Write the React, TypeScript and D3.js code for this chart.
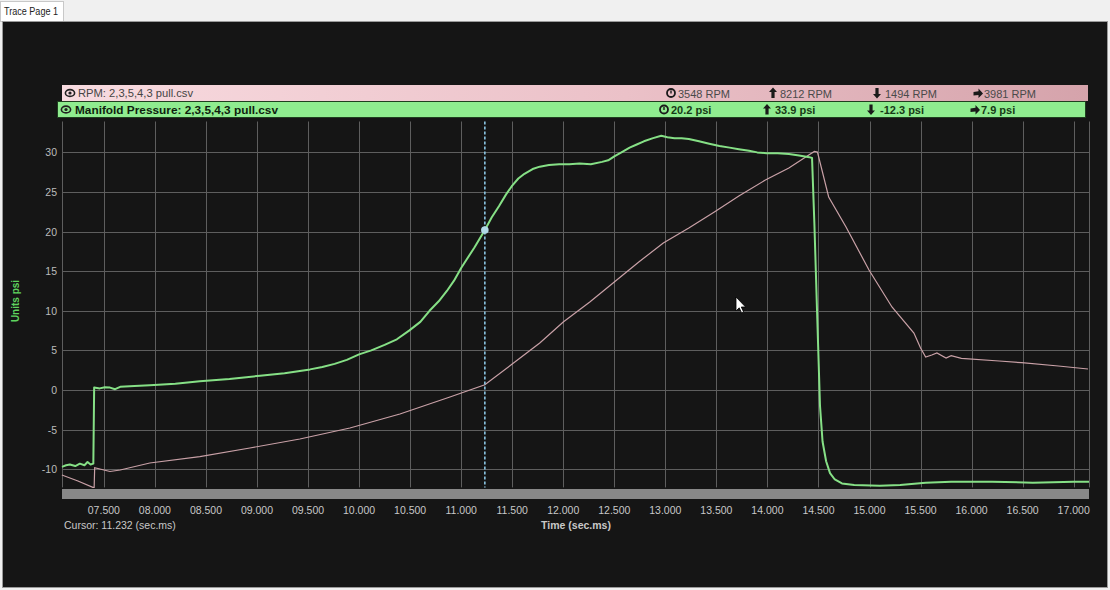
import React from "react";
import * as d3 from "d3";

// ---- data ----
const timeTicks = [7.5, 8, 8.5, 9, 9.5, 10, 10.5, 11, 11.5, 12, 12.5, 13, 13.5, 14, 14.5, 15, 15.5, 16, 16.5, 17];
const psiTicks = [-10, -5, 0, 5, 10, 15, 20, 25, 30];

const mapTime = [7.09, 7.13, 7.167, 7.22, 7.265, 7.31, 7.34, 7.37, 7.397, 7.405, 7.46, 7.51, 7.56, 7.61, 7.66, 7.8, 7.95, 8.2, 8.44, 8.73, 9.03, 9.27, 9.52, 9.64, 9.76, 9.88, 10.0, 10.12, 10.25, 10.37, 10.49, 10.6, 10.69, 10.78, 10.86, 10.93, 11.0, 11.13, 11.232, 11.3, 11.37, 11.44, 11.5, 11.56, 11.62, 11.7, 11.77, 11.86, 11.96, 12.06, 12.16, 12.27, 12.38, 12.44, 12.5, 12.57, 12.65, 12.72, 12.79, 12.88, 12.96, 13.02, 13.09, 13.16, 13.23, 13.33, 13.43, 13.53, 13.63, 13.72, 13.82, 13.9, 13.99, 14.1, 14.21, 14.31, 14.41, 14.437, 14.46, 14.486, 14.515, 14.54, 14.575, 14.613, 14.66, 14.73, 14.85, 15.1, 15.3, 15.55, 15.8, 16.2, 16.6, 17.0, 17.15];
const mapPsi = [-9.7, -9.5, -9.4, -9.6, -9.3, -9.5, -9.1, -9.4, -9.3, 0.3, 0.2, 0.35, 0.3, 0.1, 0.4, 0.5, 0.6, 0.8, 1.1, 1.4, 1.8, 2.1, 2.6, 2.9, 3.3, 3.8, 4.5, 5.0, 5.7, 6.4, 7.5, 8.6, 10, 11.2, 12.5, 13.8, 15.4, 18, 20.2, 21.8, 23.2, 24.7, 25.8, 26.7, 27.3, 27.9, 28.2, 28.4, 28.5, 28.5, 28.6, 28.5, 28.8, 29.0, 29.5, 30.0, 30.6, 31.0, 31.4, 31.8, 32.1, 31.9, 31.8, 31.8, 31.7, 31.4, 31.1, 30.8, 30.6, 30.4, 30.2, 30.0, 29.9, 29.9, 29.8, 29.6, 29.4, 29.3, 21, 10, -2, -6.5, -9, -10.5, -11.3, -11.8, -12.0, -12.1, -12.0, -11.7, -11.6, -11.6, -11.7, -11.6, -11.6];

const rpmTime = [7.089, 7.246, 7.392, 7.405, 7.41, 7.56, 7.66, 7.95, 8.44, 8.93, 9.42, 9.91, 10.4, 10.89, 11.232, 11.5, 11.77, 12.0, 12.26, 12.5, 12.74, 12.98, 13.23, 13.48, 13.72, 13.98, 14.21, 14.39, 14.46, 14.49, 14.6, 14.77, 14.995, 15.22, 15.435, 15.5, 15.55, 15.61, 15.66, 15.75, 15.8, 15.9, 16.27, 16.49, 16.85, 17.14];
const rpmVal = [1742, 1622, 1494, 1494, 1888, 1812, 1842, 1982, 2108, 2282, 2462, 2682, 2962, 3302, 3548, 3962, 4382, 4802, 5202, 5602, 6002, 6382, 6682, 7002, 7322, 7642, 7882, 8122, 8212, 8200, 7302, 6702, 5842, 5102, 4582, 4282, 4102, 4142, 4182, 4082, 4128, 4076, 4022, 3988, 3922, 3862];

const cursorTime = 11.232;
const cursorPsi = 20.2;

const rpmStats = ["3548 RPM", "8212 RPM", "1494 RPM", "3981 RPM"];
const psiStats = ["20.2 psi", "33.9 psi", "-12.3 psi", "7.9 psi"];

const FONT = "'Liberation Sans', 'DejaVu Sans', sans-serif";

function Eye({ x, y }: { x: number; y: number }) {
  return (
    <g transform={`translate(${x},${y})`}>
      <ellipse rx={4.6} ry={3.4} fill="none" stroke="#222" strokeWidth={1.6} />
      <circle r={1.6} fill="#222" />
    </g>
  );
}

function Icon({ kind, x, y }: { kind: number; x: number; y: number }) {
  const c = "#1a1a1a";
  if (kind === 0)
    return (
      <g transform={`translate(${x},${y})`}>
        <circle r={4} fill="none" stroke={c} strokeWidth={1.8} />
        <path d="M0,-2.5 L0,0.5" stroke={c} strokeWidth={1.4} />
      </g>
    );
  if (kind === 1)
    return (
      <path transform={`translate(${x},${y})`} d="M0,-5.5 L4,-1 L1.6,-1 L1.6,5 L-1.6,5 L-1.6,-1 L-4,-1 Z" fill={c} />
    );
  if (kind === 2)
    return (
      <path transform={`translate(${x},${y})`} d="M0,5.5 L4,1 L1.6,1 L1.6,-5 L-1.6,-5 L-1.6,1 L-4,1 Z" fill={c} />
    );
  return (
    <path transform={`translate(${x},${y})`} d="M5,0.5 L0.5,-4.5 L0.5,-1.8 L-4.5,-1 L-4.5,2.5 L0.5,2 L0.5,5 Z" fill={c} />
  );
}

export default function App() {
  const x = d3.scaleLinear().domain([7.09, 17.15]).range([62, 1089]);
  const yP = d3.scaleLinear().domain([-12.3, 33.9]).range([487.4, 121.5]);
  const yR = d3.scaleLinear().domain([1494, 8812]).range([487.4, 121.5]);
  const fmt = d3.format("06.3f");

  const psiLine = d3
    .line<number>()
    .x((_, i) => x(mapTime[i]))
    .y((d) => yP(d));
  const rpmLine = d3
    .line<number>()
    .x((_, i) => x(rpmTime[i]))
    .y((d) => yR(d));

  const [x0, x1] = x.range();
  const [yb, yt] = yP.range();
  const cx = x(cursorTime);

  const rpmIconX = [671, 773, 877, 978];
  const rpmTextX = [678, 780, 885, 984];
  const psiIconX = [664, 767, 871, 975];
  const psiTextX = [671, 775, 880, 981];

  return (
    <svg
      width={1110}
      height={590}
      style={{ position: "absolute", left: 0, top: 0, fontFamily: FONT }}
    >
      <defs>
        <linearGradient id="pinkGrad" x1="0" x2="1" y1="0" y2="0">
          <stop offset="0" stopColor="#f8dbe0" />
          <stop offset="0.55" stopColor="#ebc1c8" />
          <stop offset="1" stopColor="#d5a3ab" />
        </linearGradient>
      </defs>
      <rect width={1110} height={590} fill="#f0f0f0" />
      {/* tab */}
      <rect x={0.5} y={1.5} width={63} height={20} fill="#ffffff" stroke="#c8c8c8" />
      <text x={4} y={15} fontSize={10.5} fill="#222" textLength={54} lengthAdjust="spacingAndGlyphs">Trace Page 1</text>
      {/* dark panel */}
      <rect x={2.5} y={21.5} width={1105} height={566} fill="#151515" stroke="#9a9a9a" />

      {/* legend bars */}
      <rect x={62} y={85} width={1026} height={16} fill="url(#pinkGrad)" />
      <Eye x={70} y={93} />
      <text x={78} y={97} fontSize={11} fill="#444" textLength={115} lengthAdjust="spacingAndGlyphs">RPM: 2,3,5,4,3 pull.csv</text>
      {rpmStats.map((s, i) => (
        <g key={s}>
          <Icon kind={i} x={rpmIconX[i]} y={93} />
          <text x={rpmTextX[i]} y={97.5} fontSize={11} fill="#4a4a4a">{s}</text>
        </g>
      ))}
      <rect x={57.5} y={101.5} width={1028} height={16} fill="#8fec8f" stroke="#1f3f1f" />
      <Eye x={66} y={109.5} />
      <text x={75} y={113.5} fontSize={11} fontWeight="bold" fill="#0f1f0f" textLength={203} lengthAdjust="spacingAndGlyphs">Manifold Pressure: 2,3,5,4,3 pull.csv</text>
      {psiStats.map((s, i) => (
        <g key={s}>
          <Icon kind={i} x={psiIconX[i]} y={109.5} />
          <text x={psiTextX[i]} y={114} fontSize={11} fontWeight="bold" fill="#173a17">{s}</text>
        </g>
      ))}

      {/* grid */}
      <g stroke="#5e5e5e" strokeWidth={1}>
        {psiTicks.map((t) => (
          <line key={"h" + t} x1={x0} x2={x1} y1={Math.round(yP(t)) + 0.5} y2={Math.round(yP(t)) + 0.5} />
        ))}
        {timeTicks.map((t) => (
          <line key={"v" + t} x1={Math.round(x(t)) + 0.5} x2={Math.round(x(t)) + 0.5} y1={yt} y2={yb} />
        ))}
        <line x1={x0 + 0.5} x2={x0 + 0.5} y1={yt} y2={yb} />
        <line x1={x1 + 0.5} x2={x1 + 0.5} y1={yt} y2={yb} />
      </g>

      {/* y labels */}
      {psiTicks.map((t) => (
        <text key={"yl" + t} x={57} y={yP(t) + 4} fontSize={10.5} fill="#bcbcbc" textAnchor="end">
          {t}
        </text>
      ))}
      <text
        transform="translate(19,301) rotate(-90)"
        fontSize={10}
        fontWeight="bold"
        fill="#5fd35f"
        textAnchor="middle"
      >
        Units psi
      </text>

      {/* series */}
      <path d={rpmLine(rpmVal) || ""} fill="none" stroke="#c9a1a7" strokeWidth={1.2} />
      <path d={psiLine(mapPsi) || ""} fill="none" stroke="#86e086" strokeWidth={2} strokeLinejoin="round" />

      {/* cursor */}
      <line x1={cx} x2={cx} y1={yt} y2={yb} stroke="#8cc6e4" strokeWidth={1.6} strokeDasharray="3,2" />
      <circle cx={cx} cy={yP(cursorPsi)} r={3.8} fill="#b0d8e6" />

      {/* scrollbar */}
      <rect x={x0} y={489} width={x1 - x0} height={10} fill="#888888" />

      {/* x labels */}
      {timeTicks.map((t) => (
        <text key={"xl" + t} x={x(t)} y={514} fontSize={10.5} fill="#c8c8c8" textAnchor="middle">
          {fmt(t)}
        </text>
      ))}
      <text x={64} y={529} fontSize={10.5} fill="#c8c8c8">Cursor: 11.232 (sec.ms)</text>
      <text x={576} y={529} fontSize={10.5} fontWeight="bold" fill="#c8c8c8" textAnchor="middle">
        Time (sec.ms)
      </text>

      {/* mouse pointer */}
      <path
        transform="translate(736,297)"
        d="M0,0 L0,14 L3.2,10.8 L5.6,16 L7.6,15 L5.3,10 L9.6,10 Z"
        fill="#ffffff"
        stroke="#000"
        strokeWidth={0.8}
      />
    </svg>
  );
}
